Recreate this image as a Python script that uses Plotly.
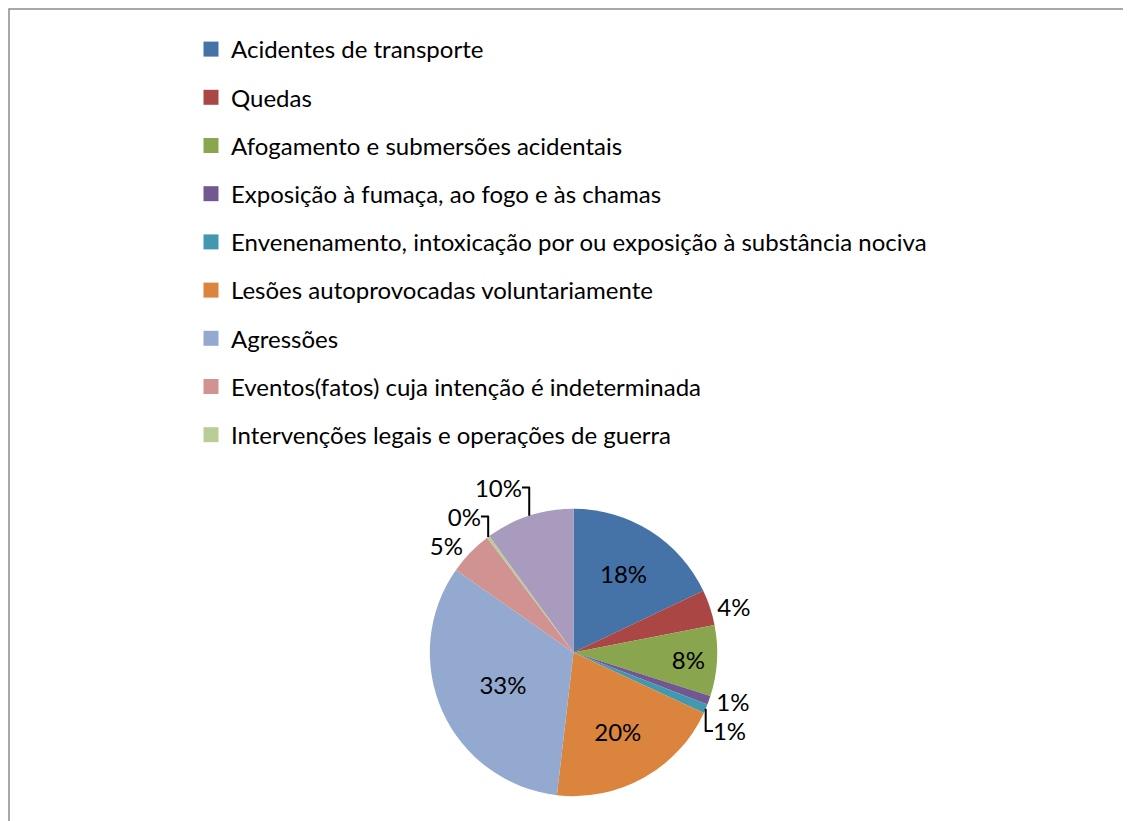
import plotly.graph_objects as go

categories = [
    "Acidentes de transporte",
    "Quedas",
    "Afogamento e submersões acidentais",
    "Exposição à fumaça, ao fogo e às chamas",
    "Envenenamento, intoxicação por ou exposição à substância nociva",
    "Lesões autoprovocadas voluntariamente",
    "Agressões",
    "Eventos(fatos) cuja intenção é indeterminada",
    "Intervenções legais e operações de guerra",
    "Demais causas externas",
]
values = [18, 4, 8, 1, 1, 20, 33, 5, 0.3, 10]
colors = ["#4572A7", "#AA4643", "#89A54E", "#71588F", "#4198AF",
          "#DB843D", "#93A9CF", "#D19392", "#B9CD96", "#A99BBD"]
text_positions = ["inside", "outside", "inside", "outside", "outside",
                  "inside", "inside", "outside", "outside", "outside"]
legend_count = 9  # the reference legend lists only the first nine categories

FONT = "Lato"
W, H = 1131, 821

fig = go.Figure()
fig.add_trace(go.Pie(
    labels=categories,
    values=values,
    sort=False,
    direction="clockwise",
    rotation=0,
    marker=dict(colors=colors, line=dict(color="white", width=0)),
    textposition=text_positions,
    texttemplate="%{percent:.0%}",
    textfont=dict(family=FONT, size=24, color="black"),
    insidetextorientation="horizontal",
    showlegend=False,
    domain=dict(x=[0.24, 0.76], y=[0.04, 0.39]),
    hoverinfo="label+percent",
))

for i in range(legend_count):
    fig.add_trace(go.Scatter(
        x=[None], y=[None], mode="markers", name=categories[i],
        marker=dict(symbol="square", size=15, color=colors[i]),
        legendgroup=f"g{i}", showlegend=True,
    ))

fig.update_layout(
    width=W, height=H,
    margin=dict(l=0, r=0, t=0, b=0),
    paper_bgcolor="white", plot_bgcolor="white",
    font=dict(family=FONT, size=24, color="black"),
    xaxis=dict(visible=False), yaxis=dict(visible=False),
    legend=dict(
        x=183 / W, y=1 - 19 / H, xanchor="left", yanchor="top",
        traceorder="grouped", tracegroupgap=14,
        font=dict(family=FONT, size=24, color="black"),
        itemwidth=30, bgcolor="rgba(0,0,0,0)",
    ),
    shapes=[dict(type="rect", xref="paper", yref="paper",
                 x0=1 / W, x1=1.05, y0=-0.05, y1=1 - 1 / H,
                 line=dict(color="#8C8C8C", width=1.5))],
)

fig.write_html("out.html")
